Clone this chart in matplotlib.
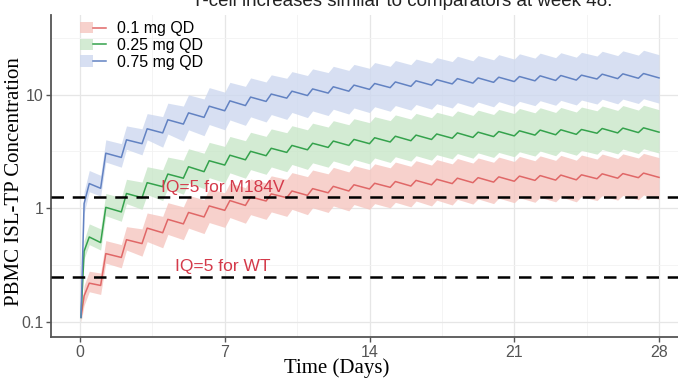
import numpy as np
import matplotlib
matplotlib.use('Agg')
import matplotlib.pyplot as plt
from matplotlib.patches import Patch
from matplotlib.lines import Line2D
from matplotlib.legend_handler import HandlerTuple
from matplotlib.ticker import FixedLocator, NullFormatter

# Sample times (days): start of profile, first-day rise, then trough / peak around each daily dose
times = [0.05, 0.2, 0.45,
         1, 1.25, 2, 2.25, 3, 3.25, 4, 4.25, 5, 5.25, 6, 6.25, 7, 7.25,
         8, 8.25, 9, 9.25, 10, 10.25, 11, 11.25, 12, 12.25, 13, 13.25, 14, 14.25,
         15, 15.25, 16, 16.25, 17, 17.25, 18, 18.25, 19, 19.25, 20, 20.25, 21, 21.25,
         22, 22.25, 23, 23.25, 24, 24.25, 25, 25.25, 26, 26.25, 27, 27.25, 28]

# 0.1 mg QD
red_mid = [0.11, 0.17, 0.22,
           0.21, 0.40, 0.37, 0.53, 0.49, 0.67, 0.61, 0.80, 0.73, 0.92, 0.84, 1.05, 0.96, 1.17,
           1.06, 1.26, 1.16, 1.34, 1.24, 1.42, 1.30, 1.49, 1.37, 1.56, 1.42, 1.61, 1.48, 1.66,
           1.53, 1.72, 1.57, 1.76, 1.61, 1.80, 1.65, 1.84, 1.68, 1.86, 1.70, 1.89, 1.73, 1.92,
           1.76, 1.94, 1.77, 1.96, 1.78, 1.97, 1.82, 2.01, 1.84, 2.02, 1.86, 2.04, 1.87]
red_lo = [0.10, 0.14, 0.185,
          0.175, 0.33, 0.30, 0.43, 0.38, 0.51, 0.45, 0.59, 0.53, 0.67, 0.60, 0.75, 0.68, 0.83,
          0.74, 0.88, 0.80, 0.93, 0.85, 0.98, 0.88, 1.01, 0.92, 1.05, 0.95, 1.08, 0.98, 1.10,
          1.01, 1.13, 1.03, 1.16, 1.05, 1.18, 1.07, 1.20, 1.09, 1.21, 1.10, 1.23, 1.12, 1.24,
          1.13, 1.25, 1.14, 1.26, 1.14, 1.27, 1.17, 1.29, 1.18, 1.30, 1.19, 1.31, 1.20]
red_hi = [0.12, 0.21, 0.28,
          0.27, 0.52, 0.48, 0.69, 0.66, 0.91, 0.85, 1.12, 1.03, 1.30, 1.19, 1.49, 1.37, 1.67,
          1.52, 1.81, 1.67, 1.93, 1.80, 2.06, 1.90, 2.17, 2.01, 2.29, 2.09, 2.37, 2.19, 2.46,
          2.27, 2.55, 2.34, 2.62, 2.40, 2.68, 2.46, 2.74, 2.50, 2.77, 2.54, 2.82, 2.58, 2.86,
          2.62, 2.89, 2.64, 2.92, 2.65, 2.94, 2.71, 3.00, 2.74, 3.01, 2.77, 3.04, 2.79]

# 0.25 mg QD
green_mid = [0.11, 0.42, 0.56,
             0.50, 1.02, 0.93, 1.35, 1.24, 1.68, 1.55, 2.00, 1.84, 2.32, 2.10, 2.62, 2.40, 2.93,
             2.67, 3.17, 2.90, 3.37, 3.10, 3.57, 3.27, 3.73, 3.43, 3.90, 3.57, 4.03, 3.70, 4.17,
             3.83, 4.30, 3.93, 4.40, 4.03, 4.50, 4.13, 4.60, 4.20, 4.67, 4.27, 4.73, 4.33, 4.80,
             4.40, 4.87, 4.43, 4.90, 4.47, 4.93, 4.57, 5.03, 4.60, 5.07, 4.63, 5.10, 4.67]
green_lo = [0.10, 0.36, 0.48,
            0.43, 0.86, 0.77, 1.10, 0.98, 1.32, 1.17, 1.50, 1.33, 1.68, 1.49, 1.86, 1.68, 2.05,
            1.84, 2.19, 1.99, 2.31, 2.10, 2.43, 2.20, 2.51, 2.30, 2.61, 2.38, 2.69, 2.46, 2.77,
            2.53, 2.84, 2.60, 2.90, 2.65, 2.96, 2.72, 3.03, 2.76, 3.07, 2.80, 3.10, 2.84, 3.14,
            2.88, 3.19, 2.90, 3.21, 2.93, 3.23, 2.99, 3.29, 3.01, 3.32, 3.03, 3.34, 3.06]
green_hi = [0.12, 0.52, 0.73,
            0.66, 1.35, 1.24, 1.80, 1.70, 2.32, 2.18, 2.82, 2.65, 3.34, 3.05, 3.80, 3.50, 4.28,
            3.93, 4.66, 4.29, 4.99, 4.62, 5.32, 4.90, 5.60, 5.18, 5.89, 5.43, 6.13, 5.66, 6.38,
            5.90, 6.62, 6.09, 6.82, 6.26, 6.98, 6.44, 7.18, 6.55, 7.29, 6.68, 7.40, 6.80, 7.54,
            6.91, 7.65, 6.96, 7.70, 7.02, 7.76, 7.20, 7.93, 7.25, 8.00, 7.30, 8.05, 7.36]

# 0.75 mg QD
blue_mid = [0.11, 1.1, 1.65,
            1.5, 3.05, 2.8, 4.0, 3.7, 5.0, 4.6, 6.0, 5.5, 6.9, 6.3, 7.9, 7.2, 8.8,
            8.0, 9.5, 8.7, 10.1, 9.3, 10.7, 9.8, 11.2, 10.3, 11.7, 10.7, 12.1, 11.1, 12.5,
            11.5, 12.9, 11.8, 13.2, 12.1, 13.5, 12.4, 13.8, 12.6, 14.0, 12.8, 14.2, 13.0, 14.4,
            13.2, 14.6, 13.3, 14.7, 13.4, 14.8, 13.7, 15.1, 13.8, 15.2, 13.9, 15.3, 14.0]
blue_lo = [0.10, 0.9, 1.4,
           1.28, 2.55, 2.3, 3.3, 2.95, 4.0, 3.45, 4.5, 3.9, 4.9, 4.35, 5.45, 4.9, 5.98,
           5.36, 6.37, 5.74, 6.67, 6.05, 6.96, 6.27, 7.17, 6.54, 7.43, 6.74, 7.62, 6.94, 7.81,
           7.13, 8.0, 7.3, 8.17, 7.44, 8.3, 7.62, 8.49, 7.72, 8.58, 7.8, 8.66, 7.87, 8.71,
           7.99, 8.83, 8.05, 8.89, 8.1, 8.95, 8.25, 9.1, 8.28, 9.12, 8.34, 9.18, 8.4]
blue_hi = [0.12, 1.4, 2.15,
           1.95, 4.0, 3.7, 5.3, 5.0, 6.8, 6.4, 8.4, 7.92, 9.94, 9.14, 11.5, 10.5, 12.8,
           11.8, 14.0, 12.9, 14.9, 13.9, 15.9, 14.7, 16.8, 15.6, 17.7, 16.3, 18.4, 17.0, 19.1,
           17.7, 19.9, 18.3, 20.5, 18.9, 21.1, 19.5, 21.7, 19.8, 22.0, 20.2, 22.4, 20.5, 22.8,
           20.9, 23.1, 21.1, 23.3, 21.3, 23.5, 21.8, 24.0, 22.0, 24.2, 22.2, 24.5, 22.4]

labels = ['0.1 mg QD', '0.25 mg QD', '0.75 mg QD']
iq_m184v = 1.25
iq_wt = 0.25

line_colors = ['#e06767', '#34a24c', '#6282c2']
fill_colors = ['#f5c6c0', '#c8e6c8', '#cdd8ef']

W, H = 678, 378
fig = plt.figure(figsize=(W / 100, H / 100), dpi=100)
ax = fig.add_axes([51 / W, 41 / H, 637 / W, 322 / H])

series = [(red_mid, red_lo, red_hi), (green_mid, green_lo, green_hi), (blue_mid, blue_lo, blue_hi)]
handles = []
for (mid, lo, hi), lc, fc, lab in zip(series, line_colors, fill_colors, labels):
    ax.fill_between(times, lo, hi, color=fc, alpha=0.8, linewidth=0, zorder=2)
    ax.plot(times, mid, color=lc, lw=1.1, zorder=3)
    handles.append((Patch(facecolor=fc, alpha=0.8, edgecolor='none'),
                    Line2D([], [], color=lc, lw=1.1)))

for val in [iq_m184v, iq_wt]:
    ax.axhline(val, color='black', lw=1.8, dashes=(5, 3.5), zorder=4)

ax.text(3.9, 1.53, 'IQ=5 for M184V', color='#d43a4a', fontsize=12.5,
        family='Liberation Sans', ha='left', va='center', zorder=5)
ax.text(4.6, 0.31, 'IQ=5 for WT', color='#d43a4a', fontsize=12.5,
        family='Liberation Sans', ha='left', va='center', zorder=5)

ax.set_yscale('log')
ax.set_ylim(0.074, 50)
ax.set_xlim(-1.4, 29.4)
ax.set_xticks([0, 7, 14, 21, 28])
ax.set_yticks([0.1, 1, 10])
ax.set_yticklabels(['0.1', '1', '10'])
ax.xaxis.set_minor_locator(FixedLocator([3.5, 10.5, 17.5, 24.5]))
ax.yaxis.set_minor_locator(FixedLocator([10 ** -0.5, 10 ** 0.5, 10 ** 1.5]))
ax.yaxis.set_minor_formatter(NullFormatter())
ax.grid(True, which='major', color='#e6e6e6', lw=0.9, zorder=0)
ax.grid(True, which='minor', color='#f2f2f2', lw=0.6, zorder=0)
ax.set_axisbelow(True)
ax.tick_params(which='minor', length=0)
ax.tick_params(which='major', length=3.5, width=1, pad=2, color='#555555',
               labelcolor='#555555', labelsize=11.5)
for lab in ax.get_xticklabels() + ax.get_yticklabels():
    lab.set_family('Liberation Sans')
for s in ['top', 'right']:
    ax.spines[s].set_visible(False)
for s in ['left', 'bottom']:
    ax.spines[s].set_color('#555555')
    ax.spines[s].set_linewidth(1.3)

ax.set_xlabel('Time (Days)', family='Liberation Serif', fontsize=15, va='center')
ax.xaxis.set_label_coords((337 - 51) / 637, (10 - 41) / 322)
ax.set_ylabel('PBMC ISL-TP Concentration', family='Liberation Serif', fontsize=15, va='center')
ax.yaxis.set_label_coords((15 - 51) / 637, (196 - 41) / 322)

leg = ax.legend(handles, labels, handler_map={tuple: HandlerTuple(ndivide=None, pad=0)},
                loc='upper left', bbox_to_anchor=(0.028, 1.015), frameon=False,
                prop={'family': 'Liberation Sans', 'size': 11.5},
                handlelength=1.6, handletextpad=0.7, labelspacing=0.1, borderpad=0.2)

fig.text(402 / W, 1 - 6 / H, 'T-cell increases similar to comparators at week 48.',
         ha='center', va='baseline', fontsize=13.5, family='Liberation Sans', color='#222222')

fig.savefig('out.png', dpi=100)
